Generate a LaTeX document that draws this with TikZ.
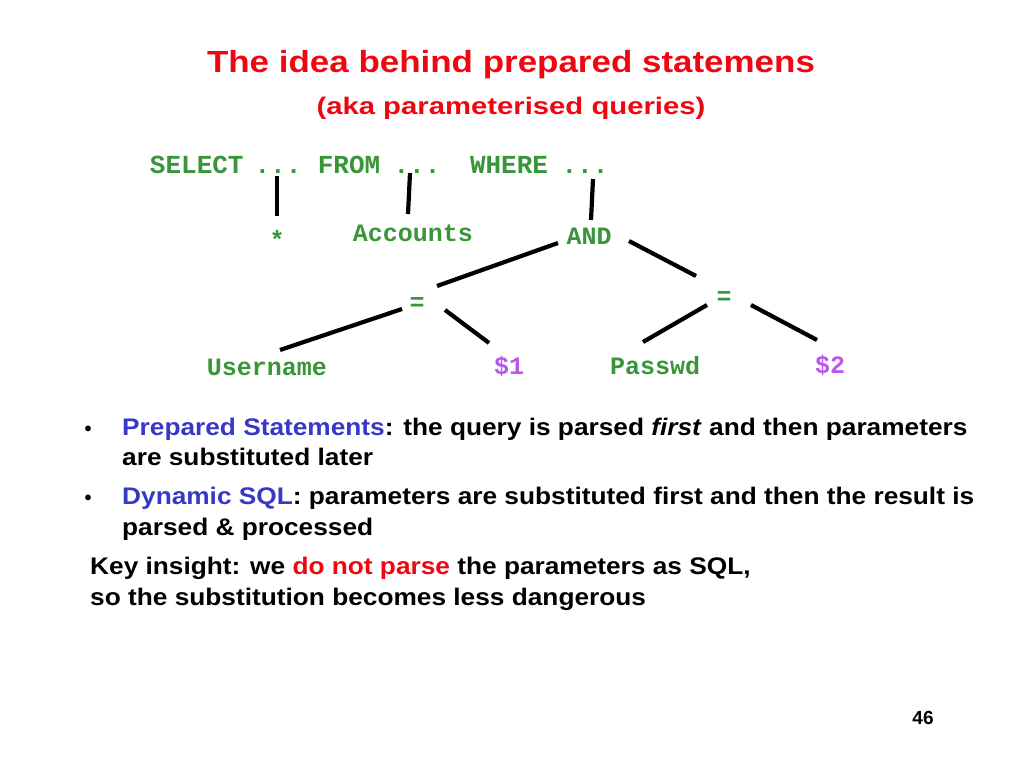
\documentclass[tikz,border=0pt]{standalone}
\usepackage{fontspec}
\setmainfont{Liberation Sans}
\setmonofont{Liberation Mono}
\newfontfamily\bodyfont{Liberation Sans}[FakeStretch=1.094]
\newfontfamily\titlefont{Liberation Sans}[FakeStretch=1.146]
\newfontfamily\subtitlefont{Liberation Sans}[FakeStretch=1.22]
\usetikzlibrary{calc}
\definecolor{slidered}{RGB}{240,6,16}
\definecolor{codegreen}{RGB}{56,150,56}
\definecolor{paramviolet}{RGB}{186,86,236}
\definecolor{termblue}{RGB}{55,55,200}
\tikzset{
  titletext/.style={font=\titlefont\bfseries\fontsize{30.5}{30.5}\selectfont, text=slidered, inner sep=0, anchor=base},
  subtitletext/.style={font=\subtitlefont\bfseries\fontsize{24}{24}\selectfont, text=slidered, inner sep=0, anchor=base},
  code/.style={font=\ttfamily\bfseries\fontsize{26}{26}\selectfont, text=codegreen, inner sep=0, text height=15pt, text depth=0pt},
  tree/.style={font=\ttfamily\bfseries\fontsize{25}{25}\selectfont, text=codegreen, inner sep=0, text height=14.5pt, text depth=0pt},
  param/.style={tree, text=paramviolet},
  edge/.style={line width=4.2pt, black},
  body/.style={font=\bodyfont\bfseries\fontsize{24}{30}\selectfont, inner sep=0, anchor=base west},
  bulletmark/.style={font=\bfseries\fontsize{20}{20}\selectfont, inner sep=0, anchor=base},
  pagenum/.style={font=\bfseries\fontsize{19}{19}\selectfont, inner sep=0, anchor=base}
}
\begin{document}
\begin{tikzpicture}[x=1pt,y=-1pt]
\useasboundingbox[fill=white] (0,0) rectangle (1024,768);

% title
\node[titletext] (title) at (511,72) {The idea behind prepared statemens};
\node[subtitletext] (subtitle) at (511,114) {(aka parameterised queries)};

% SQL line
\node[code] (sel) at (196.8,165.5) {SELECT};
\node[code] (d1) at (278,165.5) {...};
\node[code] (from) at (349,165.5) {FROM};
\node[code] (d2) at (417,165.5) {...};
\node[code] (where) at (509,165.5) {WHERE};
\node[code] (d3) at (585,165.5) {...};

% tree
\node[tree] (star) at (277,241) {*};
\node[tree] (acc) at (413,234) {Accounts};
\node[tree] (and) at (589,237) {AND};
\node[tree] (eqL) at (417,303) {=};
\node[tree] (eqR) at (724,297) {=};
\node[tree] (user) at (267,368) {Username};
\node[param] (p1) at (509,367) {\$1};
\node[tree] (pw) at (655,367) {Passwd};
\node[param] (p2) at (830,366) {\$2};

\draw[edge] ($(d1)+(-1,10.5)$) -- ($(star)+(0,-25)$);
\draw[edge] ($(d2)+(-7,7.5)$) -- ($(acc)+(-5,-20)$);
\draw[edge] ($(d3)+(8,13.5)$) -- ($(and)+(2,-17)$);
\draw[edge] ($(and)+(-31,6)$) -- ($(eqL)+(20,-17)$);
\draw[edge] ($(and)+(40,4)$) -- ($(eqR)+(-28,-21)$);
\draw[edge] ($(eqL)+(-15,6)$) -- ($(user)+(13,-18)$);
\draw[edge] ($(eqL)+(28,7)$) -- ($(p1)+(-20,-24)$);
\draw[edge] ($(eqR)+(-17,8)$) -- ($(pw)+(-12,-25)$);
\draw[edge] ($(eqR)+(27,8)$) -- ($(p2)+(-13,-26)$);

% body text
\node[bulletmark] (b1) at (88,435) {•};
\node[body] (t1) at (122,435) {\textcolor{termblue}{Prepared Statements}: the query is parsed \textit{first} and then parameters};
\node[body] (t2) at (122,465) {are substituted later};
\node[bulletmark] (b2) at (88,504) {•};
\node[body] (t3) at (122,504) {\textcolor{termblue}{Dynamic SQL}: parameters are substituted first and then the result is};
\node[body] (t4) at (122,535) {parsed \& processed};
\node[body] (t5) at (90,574) {Key insight: we \textcolor{slidered}{do not parse} the parameters as SQL,};
\node[body] (t6) at (90,605) {so the substitution becomes less dangerous};

\node[pagenum] (num) at (923,724) {46};
\end{tikzpicture}
\end{document}
